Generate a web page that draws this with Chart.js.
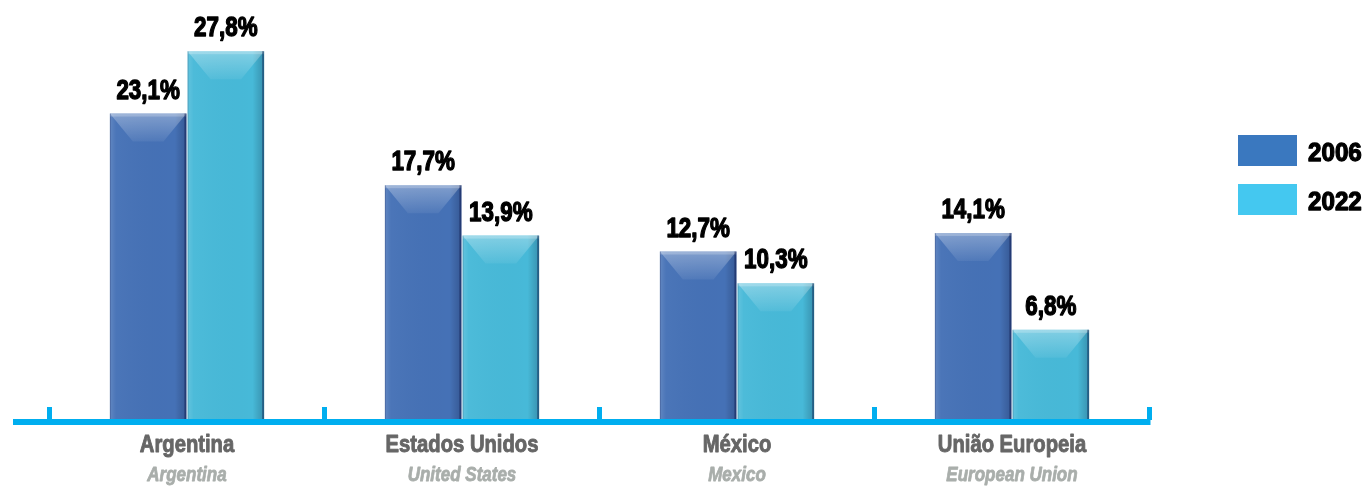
<!DOCTYPE html>
<html>
<head>
<meta charset="utf-8">
<script src="https://cdn.jsdelivr.net/npm/chart.js@4.4.0/dist/chart.umd.min.js"></script>
<style>
  html, body { margin: 0; padding: 0; background: #ffffff; }
  #wrap { width: 1367px; height: 489px; position: relative; }
</style>
</head>
<body>
<div id="wrap"><canvas id="barChart"></canvas></div>
<script>
// Chart data
const categories = ['Argentina', 'Estados Unidos', 'México', 'União Europeia'];
const subLabels = ['Argentina', 'United States', 'Mexico', 'European Union'];
const seriesNames = ['2006', '2022'];
const values2006 = [23.1, 17.7, 12.7, 14.1];
const values2022 = [27.8, 13.9, 10.3, 6.8];

// Colours
const bodyColors = ['#4571b6', '#47b9d8'];
const legendColors = ['#3a78bf', '#44c8f0'];
const axisColor = '#00aeef';

// Draw text squeezed horizontally (condensed look), stroke makes it heavier
function drawCondensed(ctx, text, x, y, font, color, squeeze, align, weight) {
    ctx.save();
    ctx.font = font;
    ctx.fillStyle = color;
    ctx.strokeStyle = color;
    ctx.lineJoin = 'round';
    ctx.textBaseline = 'alphabetic';
    ctx.textAlign = align || 'center';
    ctx.translate(x, y);
    ctx.scale(squeeze, 1);
    ctx.fillText(text, 0, 0);
    if (weight) {
        ctx.lineWidth = weight;
        ctx.strokeText(text, 0, 0);
    }
    ctx.restore();
}

function formatPct(v) {
    return v.toFixed(1).replace('.', ',') + '%';
}

// Bevel effect on each bar + value labels
const bevelPlugin = {
    id: 'bevel',
    afterDatasetsDraw(chart) {
        const ctx = chart.ctx;
        chart.data.datasets.forEach((ds, di) => {
            const meta = chart.getDatasetMeta(di);
            meta.data.forEach((bar, i) => {
                const { x, y, base, width } = bar.getProps(['x', 'y', 'base', 'width'], true);
                const x0 = x - width / 2;
                const x1 = x + width / 2;
                const h = base - y;
                const b = width * 0.3;
                const bh = Math.min(28, h / 2);

                ctx.save();
                // side shading
                const side = ctx.createLinearGradient(x0, 0, x1, 0);
                side.addColorStop(0, 'rgba(255,255,255,0.15)');
                side.addColorStop(0.08, 'rgba(255,255,255,0.03)');
                side.addColorStop(0.85, 'rgba(0,0,0,0)');
                side.addColorStop(1, 'rgba(0,0,40,0.22)');
                ctx.fillStyle = side;
                ctx.fillRect(x0, y, width, h);

                // top facet
                const top = ctx.createLinearGradient(0, y, 0, y + bh);
                top.addColorStop(0, 'rgba(255,255,255,0.32)');
                top.addColorStop(1, 'rgba(255,255,255,0.06)');
                ctx.fillStyle = top;
                ctx.beginPath();
                ctx.moveTo(x0, y);
                ctx.lineTo(x1, y);
                ctx.lineTo(x1 - b, y + bh);
                ctx.lineTo(x0 + b, y + bh);
                ctx.closePath();
                ctx.fill();

                // top rim
                ctx.fillStyle = 'rgba(255,255,255,0.22)';
                ctx.fillRect(x0, y, width, 3);

                // edges
                ctx.fillStyle = 'rgba(0,0,50,0.35)';
                ctx.fillRect(x1 - 2, y, 2, h);
                ctx.fillStyle = 'rgba(0,0,50,0.18)';
                ctx.fillRect(x0, y, 1, h);
                ctx.restore();

                // value label
                drawCondensed(ctx, formatPct(ds.data[i]), x, y - 15,
                    'bold 28px "Liberation Sans", Arial, sans-serif', '#000000', 0.8, 'center', 1.4);
            });
        });
    }
};

// Axis line, tick marks, category labels and legend
const axisPlugin = {
    id: 'axisDecor',
    afterDraw(chart) {
        const ctx = chart.ctx;
        const xs = chart.scales.x;
        const ys = chart.scales.y;
        const zeroY = ys.getPixelForValue(0);
        const step = xs.getPixelForValue(1) - xs.getPixelForValue(0);
        const firstTick = xs.getPixelForValue(0) - step / 2;
        const lastTick = firstTick + categories.length * step;

        ctx.save();
        ctx.fillStyle = axisColor;
        ctx.fillRect(13, zeroY - 1, lastTick - 13 + 1, 6);
        for (let i = 0; i <= categories.length; i++) {
            const tx = firstTick + i * step;
            ctx.fillRect(Math.round(tx) - 3, zeroY - 13, 5, 13);
        }
        ctx.restore();

        categories.forEach((c, i) => {
            const cx = xs.getPixelForValue(i);
            drawCondensed(ctx, c, cx, 452, 'bold 23px "Liberation Sans", Arial, sans-serif', '#666666', 0.88, 'center', 0.9);
            drawCondensed(ctx, subLabels[i], cx, 481, 'italic bold 20px "Liberation Sans", Arial, sans-serif', '#a9aeab', 0.85, 'center', 0.8);
        });

        // legend
        seriesNames.forEach((name, i) => {
            const top = 135 + i * 49;
            ctx.fillStyle = legendColors[i];
            ctx.fillRect(1238, top, 59, 31);
            drawCondensed(ctx, name, 1308, top + 26, 'bold 26px "Liberation Sans", Arial, sans-serif', '#000000', 0.93, 'left', 1.3);
        });
    }
};

const ctx = document.getElementById('barChart').getContext('2d');
const chart = new Chart(ctx, {
    type: 'bar',
    data: {
        labels: categories,
        datasets: [
            {
                label: seriesNames[0],
                data: values2006,
                backgroundColor: bodyColors[0],
                borderWidth: 0,
                categoryPercentage: 0.565,
                barPercentage: 0.985
            },
            {
                label: seriesNames[1],
                data: values2022,
                backgroundColor: bodyColors[1],
                borderWidth: 0,
                categoryPercentage: 0.565,
                barPercentage: 0.985
            }
        ]
    },
    options: {
        responsive: true,
        maintainAspectRatio: false,
        animation: false,
        layout: {
            padding: { left: 49.5, right: 217.5, top: 22, bottom: 69 }
        },
        plugins: {
            legend: { display: false },
            tooltip: { enabled: false }
        },
        scales: {
            x: { display: false },
            y: { display: false, min: 0, max: 30 }
        }
    },
    plugins: [bevelPlugin, axisPlugin]
});
</script>
</body>
</html>
